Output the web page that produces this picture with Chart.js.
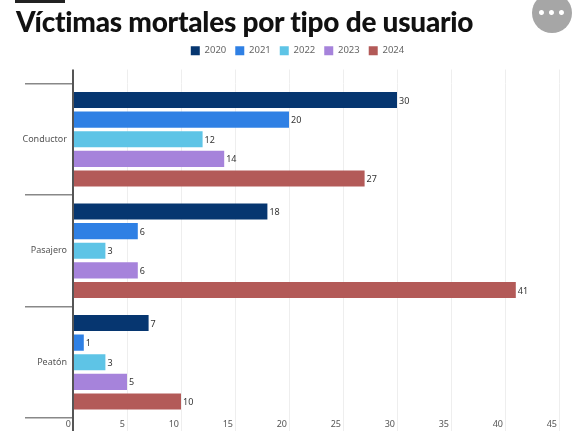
<!DOCTYPE html>
<html>
<head>
<meta charset="utf-8">
<script src="https://cdn.jsdelivr.net/npm/chart.js@4"></script>
<style>
  body { margin: 0; background: #fff; width: 581px; height: 431px; overflow: hidden; position: relative; }
  #topbar { position: absolute; left: 15px; top: 0; width: 50px; height: 3px; background: #222; }
  #titulo { position: absolute; left: 16px; top: 4px; margin: 0; font-family: "Lato", sans-serif; font-weight: 900;
            font-size: 28px; color: #111; letter-spacing: -0.25px; white-space: nowrap; }
  #menu { position: absolute; left: 532px; top: -7px; width: 40px; height: 40px; border-radius: 50%; background: #a6a6a6;
          color: #fff; font: bold 14px "DejaVu Sans", sans-serif; text-align: center; line-height: 40px; letter-spacing: 1px; }
  #wrap { position: absolute; left: 0; top: 0; width: 581px; height: 431px; }
</style>
</head>
<body>
<div id="wrap"><canvas id="myChart"></canvas></div>
<div id="topbar"></div>
<h1 id="titulo">Víctimas mortales por tipo de usuario</h1>
<div id="menu">•••</div>
<script>
const categorias = ["Conductor", "Pasajero", "Peatón"];
const anios = ["2020", "2021", "2022", "2023", "2024"];
const v2020 = [30, 18, 7];
const v2021 = [20, 6, 1];
const v2022 = [12, 3, 3];
const v2023 = [14, 6, 5];
const v2024 = [27, 41, 10];
const colores = ["#063670", "#2f80e4", "#5ec4e6", "#a683db", "#b35a58"];
const ticksX = [0, 5, 10, 15, 20, 25, 30, 35, 40, 45];

const series = [v2020, v2021, v2022, v2023, v2024];

// valores al final de cada barra
const etiquetasBarras = {
  id: "etiquetasBarras",
  afterDatasetsDraw(chart) {
    const ctx = chart.ctx;
    ctx.save();
    ctx.font = "9px 'Noto Sans', sans-serif";
    ctx.fillStyle = "#333";
    ctx.textAlign = "left";
    ctx.textBaseline = "middle";
    chart.data.datasets.forEach((ds, i) => {
      chart.getDatasetMeta(i).data.forEach((bar, j) => {
        ctx.fillText(ds.data[j], bar.x + 2, bar.y + 1);
      });
    });
    ctx.restore();
  }
};

// lineas de la rejilla que suben sobre el area y eje vertical
const extraEjes = {
  id: "extraEjes",
  afterDraw(chart) {
    const ctx = chart.ctx;
    const area = chart.chartArea;
    const x = chart.scales.x;
    ctx.save();
    ctx.strokeStyle = "#eeeeee";
    ctx.lineWidth = 1;
    ticksX.forEach((t) => {
      if (t === 0) return;
      const px = Math.round(x.getPixelForValue(t)) + 0.5;
      ctx.beginPath();
      ctx.moveTo(px, area.top - 14);
      ctx.lineTo(px, area.top);
      ctx.stroke();
    });
    ctx.strokeStyle = "#555";
    ctx.lineWidth = 2;
    ctx.beginPath();
    ctx.moveTo(area.left, area.top - 14);
    ctx.lineTo(area.left, chart.height);
    ctx.stroke();
    ctx.restore();
  }
};

// leyenda mas alta y corrida a la derecha
const ajusteLeyenda = {
  id: "ajusteLeyenda",
  beforeInit(chart) {
    const fitOrig = chart.legend.fit;
    chart.legend.fit = function () {
      fitOrig.bind(chart.legend)();
      this.height += 19;
    };
  },
  afterLayout(chart) {
    chart.legend.left += 18;
    chart.legend.right += 18;
    chart.legend.top += 1;
  }
};

const config = {
  type: "bar",
  data: {
    labels: categorias,
    datasets: anios.map((a, i) => ({
      label: a,
      data: series[i],
      backgroundColor: colores[i],
      categoryPercentage: 0.88,
      barPercentage: 0.82
    }))
  },
  options: {
    indexAxis: "y",
    responsive: false,
    animation: false,
    layout: { padding: { top: 36, right: 22, left: 0, bottom: 0 } },
    plugins: {
      legend: {
        position: "top",
        labels: {
          boxWidth: 9,
          boxHeight: 9,
          padding: 9,
          color: "#666",
          font: { family: "'Noto Sans', sans-serif", size: 9.5 }
        }
      },
      tooltip: { enabled: false }
    },
    scales: {
      x: {
        min: 0,
        max: 45,
        ticks: {
          stepSize: 5,
          align: "end",
          labelOffset: -2,
          padding: -12,
          color: "#555",
          font: { family: "'Noto Sans', sans-serif", size: 9 }
        },
        grid: { color: "#eeeeee", tickLength: 13, tickColor: "#eeeeee" },
        border: { display: false },
        afterFit(scale) { scale.height = 13; }
      },
      y: {
        ticks: {
          padding: -42,
          color: "#555",
          font: { family: "'Noto Sans', sans-serif", size: 9 }
        },
        grid: { offset: true, drawOnChartArea: false, tickLength: 48, color: "#888", lineWidth: 1.5 },
        border: { display: false },
        afterFit(scale) { scale.width = 73; }
      }
    }
  },
  plugins: [etiquetasBarras, extraEjes, ajusteLeyenda]
};

const canvas = document.getElementById("myChart");
canvas.width = 581;
canvas.height = 431;
new Chart(canvas.getContext("2d"), config);
</script>
</body>
</html>
